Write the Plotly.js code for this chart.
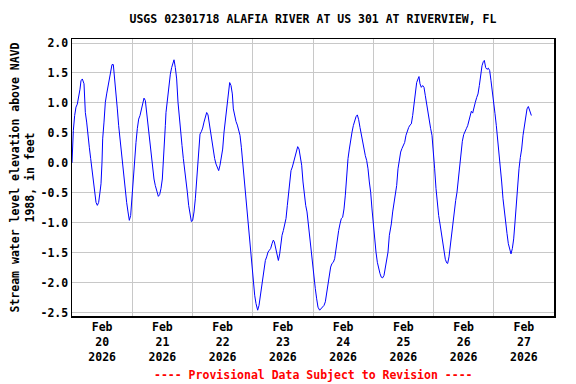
<!DOCTYPE html>
<html>
<head>
<meta charset="utf-8">
<script src="https://cdn.plot.ly/plotly-3.0.1.min.js"></script>
<style>html,body{margin:0;padding:0;background:#fff;}#chart{width:576px;height:384px;}</style>
</head>
<body>
<div id="chart"></div>
<script>
// Hours since 2026-02-20 00:00 and water level elevation (ft, NAVD 1988)
const startDate = Date.UTC(2026, 1, 20);
const hoursSinceStart = [
0.00,0.27,0.53,1.06,1.59,2.12,2.66,3.19,3.58,4.12,4.78,5.31,5.84,6.37,6.90,7.44,7.97,8.50,9.03,9.56,
10.09,10.62,11.15,11.55,11.95,12.22,12.75,13.28,13.81,14.34,14.87,15.40,15.93,16.46,17.00,17.53,18.06,18.59,19.12,19.65,
20.18,20.71,21.24,21.77,22.31,22.84,23.37,23.90,24.43,24.96,25.49,26.02,26.56,27.09,27.62,28.15,28.68,29.21,29.74,30.27,
30.80,31.34,31.60,32.13,32.66,33.19,33.73,34.39,34.92,35.45,35.98,36.38,36.78,37.18,37.44,37.84,38.24,38.64,39.17,39.70,
40.23,40.63,41.16,41.69,42.23,42.76,43.29,43.82,44.35,44.88,45.41,45.94,46.47,47.01,47.54,48.07,48.60,49.13,49.66,50.06,
50.46,50.99,51.52,52.05,52.58,53.11,53.65,54.18,54.71,55.24,55.77,56.30,56.83,57.36,57.89,58.43,58.96,59.49,60.02,60.55,
61.08,61.61,62.14,62.54,62.81,63.34,63.87,64.27,64.80,65.33,65.86,66.39,66.92,67.46,67.99,68.52,69.05,69.58,70.11,70.64,
71.17,71.70,72.24,72.77,73.30,73.96,74.49,75.02,75.56,75.95,76.49,77.02,77.55,78.08,78.61,79.14,79.67,80.20,80.60,81.13,
81.66,82.20,82.73,83.13,83.66,84.19,84.72,85.25,85.78,86.31,86.71,87.24,87.77,88.30,88.84,89.37,89.90,90.43,90.96,91.49,
92.02,92.55,93.09,93.62,94.15,94.68,95.33,95.86,96.39,96.92,97.46,97.99,98.65,99.18,99.71,100.38,100.91,101.44,101.97,102.50,
103.03,103.56,104.10,104.63,105.16,105.69,106.22,106.75,107.28,107.81,108.35,108.88,109.41,109.94,110.47,111.00,111.53,112.06,112.60,113.13,
113.66,114.19,114.72,115.25,115.78,116.31,116.84,117.38,117.91,118.44,118.97,119.50,120.03,120.56,121.09,121.63,122.16,122.69,123.22,123.75,
124.28,124.81,125.34,125.88,126.41,126.67,127.20,127.73,128.26,128.79,129.33,129.86,130.39,130.92,131.45,131.98,132.51,133.04,133.58,134.11,
134.64,135.17,135.70,136.23,136.76,137.29,137.83,138.22,138.62,139.15,139.68,140.21,140.75,141.28,141.81,142.34,142.87,143.40,143.93,144.46,
145.00,145.53,146.06,146.59,147.12,147.65,148.18,148.71,149.25,149.64,150.17,150.71,151.24,151.77,152.30,152.83,153.36,153.89,154.42,154.96,
155.49,156.02,156.55,157.08,157.61,158.14,158.54,159.07,159.60,160.13,160.66,161.20,161.73,162.26,162.79,163.32,163.85,164.25,164.78,165.31,
165.84,166.38,166.91,167.44,167.97,168.50,169.03,169.56,170.09,170.62,171.16,171.69,172.22,172.75,173.28,173.81,174.34,174.87,175.41,175.94,
176.47,177.00,177.53,178.06,178.59,179.12,179.66,180.19,180.72,181.25,181.78,182.31,182.98
];
const waterLevelFt = [
0.00,0.39,0.54,0.79,0.93,0.98,1.09,1.23,1.37,1.40,1.32,0.84,0.68,0.40,0.26,0.07,-0.13,-0.32,-0.52,-0.66,
-0.71,-0.66,-0.49,-0.35,0.01,0.40,0.68,1.01,1.15,1.29,1.43,1.57,1.64,1.64,1.40,1.23,0.90,0.62,0.40,0.18,
-0.10,-0.32,-0.49,-0.66,-0.82,-0.96,-0.88,-0.54,-0.21,0.01,0.34,0.57,0.73,0.79,0.90,1.01,1.08,1.04,0.84,0.62,
0.46,0.21,0.07,-0.13,-0.27,-0.38,-0.46,-0.56,-0.53,-0.43,-0.27,-0.02,0.34,0.62,0.84,1.01,1.18,1.34,1.48,1.59,
1.69,1.72,1.59,1.40,1.01,0.73,0.46,0.29,0.07,-0.16,-0.32,-0.49,-0.71,-0.88,-0.98,-0.96,-0.82,-0.60,-0.27,0.01,
0.29,0.48,0.52,0.58,0.68,0.78,0.84,0.80,0.65,0.51,0.34,0.18,0.07,-0.02,-0.07,-0.13,-0.04,0.09,0.23,0.51,
0.73,0.93,1.07,1.23,1.34,1.29,1.15,0.90,0.76,0.69,0.63,0.54,0.46,0.26,0.01,-0.27,-0.49,-0.82,-1.04,-1.27,
-1.49,-1.71,-1.99,-2.21,-2.35,-2.46,-2.38,-2.21,-2.04,-1.88,-1.71,-1.63,-1.57,-1.49,-1.46,-1.43,-1.35,-1.29,-1.32,-1.43,
-1.57,-1.63,-1.52,-1.35,-1.21,-1.13,-1.02,-0.93,-0.71,-0.49,-0.27,-0.13,-0.07,0.01,0.07,0.18,0.27,0.23,0.12,-0.04,
-0.32,-0.54,-0.71,-0.82,-1.04,-1.27,-1.46,-1.71,-1.88,-2.10,-2.27,-2.41,-2.46,-2.44,-2.41,-2.38,-2.32,-2.18,-2.02,-1.85,
-1.74,-1.68,-1.66,-1.60,-1.43,-1.27,-1.13,-1.02,-0.93,-0.91,-0.77,-0.54,-0.21,0.07,0.23,0.40,0.51,0.62,0.71,0.77,
0.80,0.72,0.59,0.47,0.34,0.21,0.12,0.04,-0.10,-0.32,-0.49,-0.77,-1.04,-1.27,-1.49,-1.66,-1.77,-1.85,-1.91,-1.92,
-1.88,-1.77,-1.66,-1.49,-1.21,-1.16,-1.02,-0.82,-0.68,-0.54,-0.38,-0.10,0.09,0.18,0.24,0.29,0.34,0.46,0.54,0.59,
0.63,0.65,0.79,1.01,1.18,1.34,1.40,1.44,1.32,1.26,1.29,1.26,1.12,0.96,0.84,0.68,0.57,0.46,0.23,-0.10,
-0.43,-0.71,-0.88,-1.02,-1.16,-1.32,-1.49,-1.61,-1.67,-1.68,-1.57,-1.38,-1.10,-0.93,-0.77,-0.63,-0.49,-0.27,-0.04,0.21,
0.36,0.47,0.51,0.57,0.62,0.71,0.79,0.86,0.83,0.90,1.01,1.09,1.15,1.29,1.48,1.62,1.69,1.71,1.59,1.56,
1.58,1.54,1.37,1.15,0.98,0.82,0.62,0.40,0.23,-0.02,-0.32,-0.60,-0.82,-0.99,-1.18,-1.35,-1.46,-1.52,-1.43,-1.27,
-0.99,-0.66,-0.38,-0.10,0.09,0.23,0.46,0.62,0.79,0.90,0.94,0.86,0.79
];
const yTickVals = [-2.5, -2.0, -1.5, -1.0, -0.5, 0.0, 0.5, 1.0, 1.5, 2.0];
const yTickText = ["-2.5", "-2.0", "-1.5", "-1.0", "-0.5", "0.0", "0.5", "1.0", "1.5", "2.0"];
const chartTitle = "USGS 02301718 ALAFIA RIVER AT US 301 AT RIVERVIEW, FL";
const yTitle = "Stream water level elevation above NAVD<br>1988, in feet";
const footer = "---- Provisional Data Subject to Revision ----";

function fmt(ms) {
  return new Date(ms).toISOString().replace('T', ' ').slice(0, 19);
}
const times = hoursSinceStart.map(h => fmt(startDate + h * 3600000));

const FONT = "DejaVu Sans Mono";
const trace = {
  x: times, y: waterLevelFt, type: 'scatter', mode: 'lines',
  line: {color: '#0000ff', width: 1}, hoverinfo: 'skip'
};
const layout = {
  width: 576, height: 384,
  margin: {l: 72, r: 22, t: 39, b: 68},
  paper_bgcolor: '#ffffff', plot_bgcolor: '#ffffff',
  font: {family: FONT, size: 11.5, color: '#000000', weight: 'bold'},
  showlegend: false,
  title: {text: chartTitle, x: 0.5, xref: 'paper', xanchor: 'center',
          y: 1 - 19/384, yref: 'container', yanchor: 'middle',
          font: {family: FONT, size: 11.5, color: '#000000', weight: 'bold'}},
  xaxis: {
    type: 'date',
    range: [fmt(startDate), fmt(startDate + 8 * 86400000)],
    tick0: fmt(startDate), dtick: 86400000,
    ticklabelmode: 'period', tickformat: '%b<br>%d<br>%Y',
    ticks: '', showgrid: true, gridcolor: '#c8c8c8', gridwidth: 1,
    showline: true, mirror: true, linecolor: '#000000', linewidth: 1.5,
    zeroline: false, fixedrange: true,
    tickfont: {family: FONT, size: 11.5, color: '#000000', weight: 'bold'}
  },
  yaxis: {
    range: [-2.557, 2.067],
    tickmode: 'array', tickvals: yTickVals, ticktext: yTickText,
    ticks: '', showgrid: true, gridcolor: '#c8c8c8', gridwidth: 1,
    showline: true, mirror: true, linecolor: '#000000', linewidth: 1.5,
    zeroline: false, fixedrange: true,
    tickfont: {family: FONT, size: 11.5, color: '#000000', weight: 'bold'},
    title: {text: yTitle, standoff: 3,
            font: {family: FONT, size: 11.5, color: '#000000', weight: 'bold'}}
  },
  annotations: [{
    text: footer, xref: 'paper', yref: 'paper', x: 0.5, y: (316 - 375) / 277,
    xanchor: 'center', yanchor: 'middle', showarrow: false,
    font: {family: FONT, size: 11.5, color: '#ff0000', weight: 'bold'}
  }]
};
Plotly.newPlot('chart', [trace], layout, {displayModeBar: false, staticPlot: true});
</script>
</body>
</html>
